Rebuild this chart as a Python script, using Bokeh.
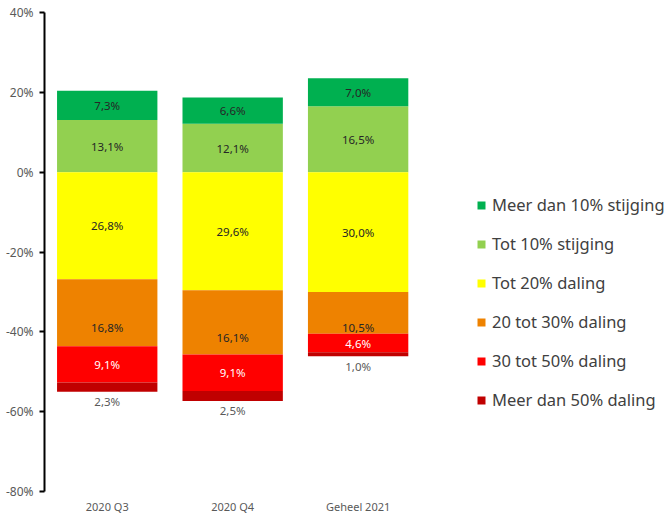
from bokeh.plotting import figure
from bokeh.models import (Range1d, FixedTicker, Legend, LegendItem, ColumnDataSource,
                          CustomJSTickFormatter)
from bokeh.core.properties import value
from bokeh.embed import file_html
from bokeh.resources import INLINE

# ---- data ----
categories = ["2020 Q3", "2020 Q4", "Geheel 2021"]
meer_10_stijging = [7.3, 6.6, 7.0]
tot_10_stijging = [13.1, 12.1, 16.5]
tot_20_daling = [26.8, 29.6, 30.0]
d20_30_daling = [16.8, 16.1, 10.5]
d30_50_daling = [9.1, 9.1, 4.6]
meer_50_daling = [2.3, 2.5, 1.0]
y_ticks = [-80, -60, -40, -20, 0, 20, 40]

FONT = "Noto Sans"
xs = list(range(len(categories)))

p = figure(width=670, height=516, output_backend="svg", toolbar_location=None,
           x_range=Range1d(-0.5, 4.49), y_range=Range1d(-80, 40),
           min_border_left=44, min_border_right=0, min_border_top=12,
           min_border_bottom=0)
p.outline_line_color = None
p.xgrid.visible = False
p.ygrid.visible = False
p.background_fill_color = "white"
p.border_fill_color = "white"

def fmt(v):
    return ("%.1f" % v).replace(".", ",") + "%"

pos_series = [("Tot 10% stijging", tot_10_stijging, "#92D050", "#262626", 0),
              ("Meer dan 10% stijging", meer_10_stijging, "#00B050", "#262626", 0)]
neg_series = [("Tot 20% daling", tot_20_daling, "#FFFF00", "#262626", 0),
              ("20 tot 30% daling", d20_30_daling, "#EE8200", "#262626", 15),
              ("30 tot 50% daling", d30_50_daling, "#FF0000", "#FFFFFF", 0),
              ("Meer dan 50% daling", meer_50_daling, "#C00000", "#595959", None)]

LBL = "11.5px"
renderers = {}
base = [0.0] * len(xs)
for name, vals, color, tcol, off in pos_series:
    top = [b + v for b, v in zip(base, vals)]
    src = ColumnDataSource(dict(x=xs, bottom=base, top=top,
                                ym=[(b + t) / 2 for b, t in zip(base, top)],
                                lab=[fmt(v) for v in vals]))
    renderers[name] = p.vbar(x="x", width=0.8, bottom="bottom", top="top", source=src,
                             fill_color=color, line_color=None)
    p.text(x="x", y="ym", text="lab", source=src, text_align="center",
           text_baseline="middle", text_font=value(FONT), text_font_size=LBL,
           text_color=tcol, y_offset=off)
    base = top

base = [0.0] * len(xs)
for name, vals, color, tcol, off in neg_series:
    bot = [b - v for b, v in zip(base, vals)]
    src = ColumnDataSource(dict(x=xs, bottom=bot, top=base,
                                ym=[(b + t) / 2 for b, t in zip(base, bot)],
                                yb=bot,
                                lab=[fmt(v) for v in vals]))
    renderers[name] = p.vbar(x="x", width=0.8, bottom="bottom", top="top", source=src,
                             fill_color=color, line_color=None)
    if off is None:
        p.text(x="x", y="yb", text="lab", source=src, text_align="center",
               text_baseline="middle", text_font=value(FONT), text_font_size=LBL,
               text_color=tcol, y_offset=10)
    else:
        p.text(x="x", y="ym", text="lab", source=src, text_align="center",
               text_baseline="middle", text_font=value(FONT), text_font_size=LBL,
               text_color=tcol, y_offset=off)
    base = bot

# axes
p.yaxis.ticker = FixedTicker(ticks=y_ticks)
p.yaxis.formatter = CustomJSTickFormatter(code="return tick + '%';")
p.yaxis.axis_line_color = "black"
p.yaxis.axis_line_width = 2
p.yaxis.major_tick_line_color = "black"
p.yaxis.major_tick_line_width = 2
p.yaxis.major_tick_out = 5
p.yaxis.major_tick_in = 0
p.yaxis.minor_tick_line_color = None
p.yaxis.major_label_text_font = FONT
p.yaxis.major_label_text_font_size = "12px"
p.yaxis.major_label_text_color = "#595959"
p.yaxis.major_label_standoff = 6

p.xaxis.ticker = FixedTicker(ticks=xs)
p.xaxis.major_label_overrides = {i: c for i, c in zip(xs, categories)}
p.xaxis.axis_line_color = None
p.xaxis.major_tick_line_color = None
p.xaxis.major_tick_out = 0
p.xaxis.major_tick_in = 0
p.xaxis.minor_tick_line_color = None
p.xaxis.minor_tick_out = 0
p.xaxis.major_label_text_font = FONT
p.xaxis.major_label_text_font_size = "11px"
p.xaxis.major_label_text_color = "#595959"
p.xaxis.major_label_standoff = 7

legend_order = ["Meer dan 10% stijging", "Tot 10% stijging", "Tot 20% daling",
                "20 tot 30% daling", "30 tot 50% daling", "Meer dan 50% daling"]
legend = Legend(items=[LegendItem(label=n, renderers=[renderers[n]]) for n in legend_order],
                location=(432, 80), border_line_color=None, background_fill_alpha=0,
                label_text_font=FONT, label_text_font_size="16.5px",
                label_text_color="#404040", glyph_width=10, glyph_height=10,
                label_height=23, spacing=16, padding=0, margin=0, label_standoff=6)
p.add_layout(legend)

open("out.html", "w").write(file_html(p, INLINE))
